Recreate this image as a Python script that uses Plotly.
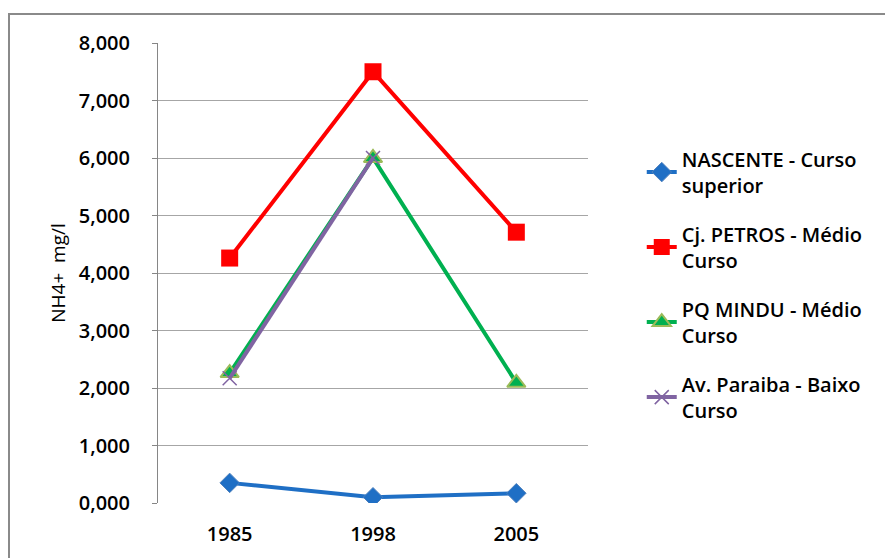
"""
NH4+ (mg/l) por ponto de coleta, 1985 / 1998 / 2005
"""

import plotly.graph_objects as go

# Dados
anos = ["1985", "1998", "2005"]
nascente = [0.35, 0.10, 0.17]
petros = [4.26, 7.50, 4.71]
mindu = [2.26, 6.00, 2.09]
paraiba = [2.17, 6.00, None]
y_ticks = [0, 1, 2, 3, 4, 5, 6, 7, 8]

fonte = "Open Sans"

series = [
    ("NASCENTE - Curso<br>superior", nascente, "#1F6FC5",
     dict(symbol="diamond", size=15, color="#1F6FC5", line=dict(color="#4F81BD", width=1))),
    ("Cj. PETROS - Médio<br>Curso", petros, "#FF0000",
     dict(symbol="square", size=17, color="#FF0000", line=dict(width=0))),
    ("PQ MINDU - Médio<br>Curso", mindu, "#00B050",
     dict(symbol="triangle-up", size=16, color="#00B050", line=dict(color="#9BBB59", width=2))),
    ("Av. Paraiba - Baixo<br>Curso", paraiba, "#8064A2",
     dict(symbol="x-thin", size=14, color="#8064A2", line=dict(color="#8064A2", width=1.5))),
]

fig = go.Figure()

for i, (nome, valores, cor, marcador) in enumerate(series):
    fig.add_trace(go.Scatter(
        x=anos,
        y=valores,
        mode="lines+markers",
        name=nome,
        legendgroup=f"g{i}",
        line=dict(color=cor, width=4),
        marker=marcador,
    ))

# Moldura externa do gráfico (estilo Excel)
fig.add_shape(
    type="rect", xref="paper", yref="paper",
    x0=-0.3465, x1=1.9, y0=-0.3, y1=1.063,
    line=dict(color="#8a8a8a", width=2),
    fillcolor="rgba(0,0,0,0)",
    layer="below",
)

fig.update_layout(
    width=893,
    height=558,
    margin=dict(l=150, r=313, t=35, b=63),
    paper_bgcolor="white",
    plot_bgcolor="white",
    separators=",.",
    font=dict(family=fonte, size=19, color="black"),
    legend=dict(
        x=1.125, y=0.79, xanchor="left", yanchor="top",
        font=dict(family=fonte, size=20, color="black", weight=600),
        tracegroupgap=20,
        bgcolor="rgba(0,0,0,0)",
    ),
    showlegend=True,
)

fig.update_xaxes(
    range=[-0.5, 2.5],
    showgrid=False,
    showline=False,
    zeroline=False,
    ticks="",
    tickfont=dict(family=fonte, size=20, weight=600),
    ticklabelstandoff=17,
)

fig.update_yaxes(
    range=[0, 8],
    tickvals=y_ticks,
    tickformat=".3f",
    showgrid=True,
    gridcolor="#a6a6a6",
    gridwidth=1,
    zeroline=False,
    showline=True,
    linecolor="#868686",
    linewidth=1,
    ticks="outside",
    ticklen=5,
    tickcolor="#868686",
    tickfont=dict(family=fonte, size=20, weight=600),
    ticklabelstandoff=18,
    title=dict(text="NH4+  mg/l", font=dict(family=fonte, size=19), standoff=8),
)

fig.write_html("out.html")
